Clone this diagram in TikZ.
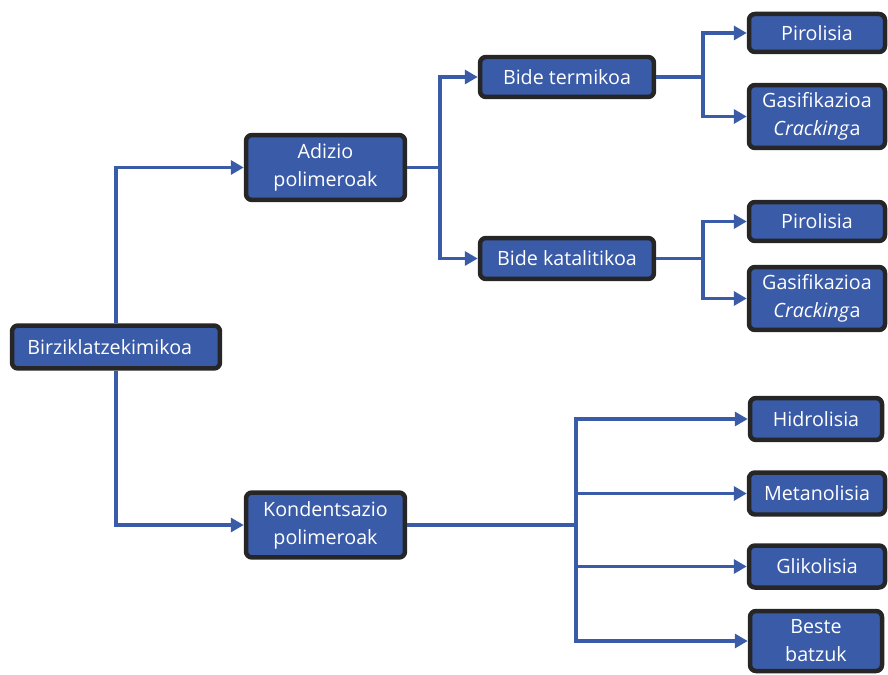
\documentclass[tikz,border=0pt]{standalone}
\usepackage{fontspec}
\setmainfont{Open Sans}
\usetikzlibrary{arrows.meta,calc}
\definecolor{boxblue}{RGB}{58,91,168}
\definecolor{boxedge}{RGB}{38,38,38}
\tikzset{%
        box/.style = {
            draw = boxedge,
            fill = boxblue,
            line width = 0.09cm,
            rounded corners = 0.12cm,
            text = white,
            align = center,
            inner sep = 2pt,
            font = \fontsize{11.2}{16}\selectfont
        },
        link/.style = {
            draw = boxblue,
            line width = 0.07cm,
            -{Triangle[length=0.26cm,width=0.28cm]}
        }
}

\begin{document}
\begin{tikzpicture}[x=0.02cm, y=-0.02cm]
        \useasboundingbox (0,0) rectangle (888,675);
        % ezkerreko zutabea
        \node[box, minimum width=4.16cm, minimum height=0.86cm] (root) at (116,347) {Birziklatzekimikoa\hspace*{0.25cm}};
        \node[box, minimum width=3.18cm, minimum height=1.30cm] (adizio) at (325.5,167.5) {Adizio\\polimeroak};
        \node[box, minimum width=3.18cm, minimum height=1.30cm] (kond) at (325.5,525) {Kondentsazio\\polimeroak};
        % bideak
        \node[box, minimum width=3.48cm, minimum height=0.80cm] (termiko) at (567,77) {Bide termikoa};
        \node[box, minimum width=3.48cm, minimum height=0.82cm] (katal) at (567,258.5) {Bide katalitikoa};
        % eskuineko zutabea
        \node[box, minimum width=2.72cm, minimum height=0.76cm] (piro1) at (817,33) {Pirolisia};
        \node[box, minimum width=2.72cm, minimum height=1.26cm] (gasi1) at (817,116.5) {Gasifikazioa\\\textit{Cracking}a};
        \node[box, minimum width=2.72cm, minimum height=0.78cm] (piro2) at (817,221.5) {Pirolisia};
        \node[box, minimum width=2.72cm, minimum height=1.26cm] (gasi2) at (817,298.5) {Gasifikazioa\\\textit{Cracking}a};
        \node[box, minimum width=2.64cm, minimum height=0.84cm] (hidro) at (816,419) {Hidrolisia};
        \node[box, minimum width=2.72cm, minimum height=0.84cm] (meta) at (817,493.5) {Metanolisia};
        \node[box, minimum width=2.72cm, minimum height=0.84cm] (gliko) at (817,566.5) {Glikolisia};
        \node[box, minimum width=2.64cm, minimum height=1.20cm] (beste) at (816,641) {Beste\\batzuk};
        % loturak
        \draw[link] (root.north) |- (adizio.west);
        \draw[link] (root.south) |- (kond.west);
        \draw[link] (adizio.east) -- ++(33,0) coordinate (j1) |- (termiko.west);
        \draw[link] (j1) |- (katal.west);
        \draw[link] (termiko.east) -- ++(47,0) coordinate (j2) |- (piro1.west);
        \draw[link] (j2) |- (gasi1.west);
        \draw[link] (katal.east) -- ++(47,0) coordinate (j3) |- (piro2.west);
        \draw[link] (j3) |- (gasi2.west);
        \draw[link] (kond.east) -- ++(169,0) coordinate (j4) |- (hidro.west);
        \draw[link] (j4) |- (meta.west);
        \draw[link] (j4) |- (gliko.west);
        \draw[link] (j4) |- (beste.west);
\end{tikzpicture}
\end{document}
